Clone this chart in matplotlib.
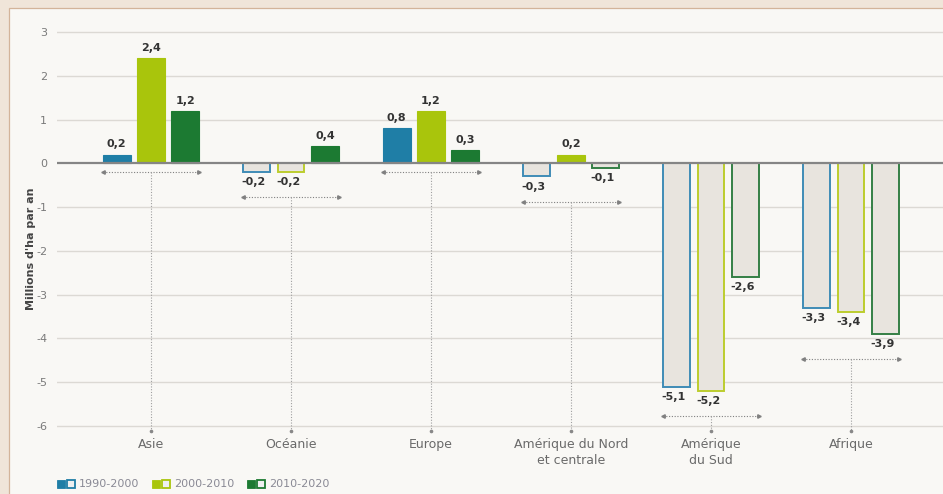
import matplotlib
matplotlib.use("Agg")
import matplotlib.pyplot as plt
from matplotlib.patches import Rectangle
import numpy as np

# Data: annual net change in forest area (millions of ha per year)
regions = ["Asie", "Océanie", "Europe", "Amérique du Nord\net centrale", "Amérique\ndu Sud", "Afrique"]
periods = ["1990-2000", "2000-2010", "2010-2020"]
v_1990_2000 = [0.2, -0.2, 0.8, -0.3, -5.1, -3.3]
v_2000_2010 = [2.4, -0.2, 1.2, 0.2, -5.2, -3.4]
v_2010_2020 = [1.2, 0.4, 0.3, -0.1, -2.6, -3.9]
yticks = [3, 2, 1, 0, -1, -2, -3, -4, -5, -6]

series = [v_1990_2000, v_2000_2010, v_2010_2020]
colors = ["#1f7ea6", "#a9c50c", "#1c7a32"]
edge_neg = ["#3f8cb6", "#bccd2e", "#347f45"]
neg_fill = "#e8e4de"

W, H = 943, 494
fig = plt.figure(figsize=(W / 100, H / 100), dpi=100)
fig.patch.set_facecolor("#f0e5d9")

# inner panel
panel = Rectangle((9 / W, -0.01), 1.0, (H - 8) / H + 0.01, transform=fig.transFigure,
                  facecolor="#f9f8f5", edgecolor="#d3b49a", lw=0.9, zorder=-10)
fig.add_artist(panel)

ylo, yhi = -6.6, 3.3
px_per_unit = (426 - 32) / 9.0
top_px = 32 - (yhi - 3) * px_per_unit
bot_px = 426 + (-6 - ylo) * px_per_unit
ax = fig.add_axes([57 / W, (H - bot_px) / H, 1 - 57 / W, (bot_px - top_px) / H])
ax.set_facecolor("none")
ax.set_zorder(2)

x0, step = 151, 140
xlo = (57 - x0) / step
xhi = (943 - x0) / step
ax.set_xlim(xlo, xhi)
ax.set_ylim(ylo, yhi)

# grid
for t in yticks:
    if t == 0:
        continue
    ax.axhline(t, color="#dcd9d4", lw=1.0, zorder=1)
ax.axhline(0, color="#858585", lw=1.6, zorder=4)

x = np.arange(len(regions))
bw = 0.2
offs = [-0.245, 0, 0.245]
label_font = ["DejaVu Sans"]

for s, (vals, c, ce, o) in enumerate(zip(series, colors, edge_neg, offs)):
    for i, v in enumerate(vals):
        xi = x[i] + o
        if v >= 0:
            ax.bar(xi, v, width=bw, color=c, edgecolor=c, lw=0.8, zorder=3)
            ax.text(xi, v + 0.12, f"{v:.1f}".replace(".", ","), ha="center", va="bottom",
                    fontsize=8, fontweight="bold", color="#333333", family=label_font, zorder=5)
        else:
            ax.bar(xi, v, width=bw - 0.01, color=neg_fill, edgecolor=ce, lw=1.4, zorder=3)
            ax.text(xi - 0.02, v - 0.12, f"{v:.1f}".replace(".", ","), ha="center", va="top",
                    fontsize=8, fontweight="bold", color="#333333", family=label_font, zorder=5)

# group brackets and leader lines to category labels
for i in range(len(regions)):
    gmin = min(s[i] for s in series)
    yb = -0.2 if gmin >= 0 else gmin - 0.58
    xl = x[i] + offs[0] - bw / 2
    xr = x[i] + offs[2] + bw / 2
    ax.plot([xl, xr], [yb, yb], ls=(0, (1, 1.5)), color="#808080", lw=0.8, zorder=2)
    ax.plot([xl], [yb], marker="<", ms=2.5, color="#808080", zorder=2)
    ax.plot([xr], [yb], marker=">", ms=2.5, color="#808080", zorder=2)
    ax.plot([x[i], x[i]], [yb, -6.12], ls=(0, (1, 1.5)), color="#a0a0a0", lw=0.8, zorder=2)
    ax.plot([x[i]], [-6.12], marker="o", ms=1.6, color="#888888", zorder=2, clip_on=False)
    ax.text(x[i], -6.28, regions[i], ha="center", va="top", fontsize=9, color="#6a6a6a",
            family=label_font, linespacing=1.25, clip_on=False)

ax.set_yticks(yticks)
ax.set_yticklabels([str(t) for t in yticks], family=label_font)
ax.tick_params(axis="y", length=0, pad=7, labelsize=8, labelcolor="#7a7a7a")
ax.set_xticks([])
for sp in ax.spines.values():
    sp.set_visible(False)

fig.text(31 / W, (H - 249) / H, "Millions d'ha par an", rotation=90, ha="center", va="center",
         fontsize=8, fontweight="bold", color="#444444", family=label_font)

# legend
sq = 8
leg_y = (H - 484 - sq / 2) / H
for k, (lab, c, lx) in enumerate(zip(periods, colors, [57, 152, 247])):
    fig.add_artist(Rectangle((lx / W, leg_y), sq / W, sq / H, transform=fig.transFigure,
                             facecolor=c, edgecolor=c, lw=0.6))
    fig.add_artist(Rectangle(((lx + 10) / W, leg_y), sq / W, sq / H, transform=fig.transFigure,
                             facecolor="#eef0f0", edgecolor=c, lw=1.3))
    fig.text((lx + 22) / W, leg_y + sq / H / 2, lab, ha="left", va="center", fontsize=8,
             color="#8a8a95", family=label_font)

fig.savefig("out.png", dpi=100, facecolor=fig.get_facecolor())
